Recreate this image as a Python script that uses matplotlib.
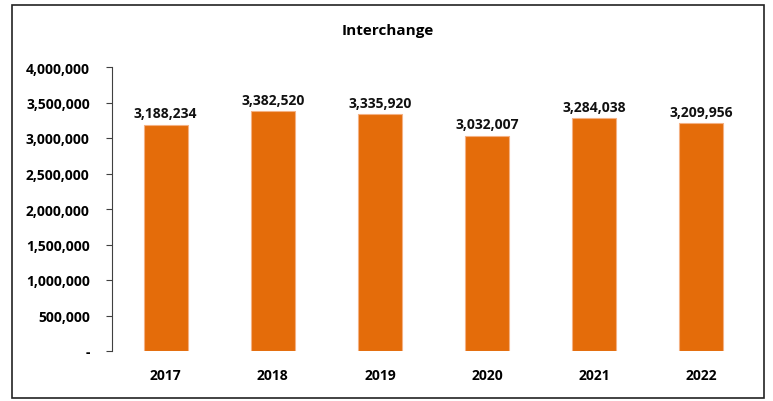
import matplotlib
matplotlib.use("Agg")
import matplotlib.pyplot as plt
from matplotlib.patches import Rectangle
from matplotlib.ticker import FuncFormatter

years = ["2017", "2018", "2019", "2020", "2021", "2022"]
interchange = [3188234, 3382520, 3335920, 3032007, 3284038, 3209956]
yticks = [0, 500000, 1000000, 1500000, 2000000, 2500000, 3000000, 3500000, 4000000]

BAR = "#E46C0A"
plt.rcParams["font.family"] = ["Open Sans", "DejaVu Sans"]
plt.rcParams["font.weight"] = "bold"

fig = plt.figure(figsize=(7.73, 4.02), dpi=100)
ax = fig.add_axes([112 / 773, 50 / 402, 643 / 773, 284 / 402])

x = range(len(years))
ax.bar(x, interchange, width=0.41, color=BAR, edgecolor="#F4B183", linewidth=0.8)
for xi, v in zip(x, interchange):
    ax.text(xi, v + 60000, f"{v:,}", ha="center", va="bottom",
            fontsize=10, fontweight="bold", color="#111111")

ax.set_xlim(-0.5, len(years) - 0.5)
ax.set_ylim(0, 4000000)
ax.set_yticks(yticks)
ax.yaxis.set_major_formatter(FuncFormatter(lambda v, p: "-" if v == 0 else f"{int(v):,}"))
ax.set_xticks(list(x))
ax.set_xticklabels(years)
ax.tick_params(axis="x", length=0, pad=12, labelsize=10)
ax.tick_params(axis="y", length=4, width=0.8, color="#404040", pad=12, labelsize=10)
for lbl in ax.get_xticklabels() + ax.get_yticklabels():
    lbl.set_fontweight("bold")
for s in ["top", "right", "bottom"]:
    ax.spines[s].set_visible(False)
ax.spines["left"].set_color("#404040")
ax.spines["left"].set_linewidth(0.8)

fig.text(388 / 773, 1 - 31 / 402, "Interchange", ha="center", va="center",
         fontsize=11, fontweight="bold")

fig.patches.append(Rectangle((12 / 773, 3 / 402), 752 / 773, 393 / 402,
                             transform=fig.transFigure, fill=False,
                             edgecolor="#222222", linewidth=1.2))

fig.savefig("out.png", dpi=100)
